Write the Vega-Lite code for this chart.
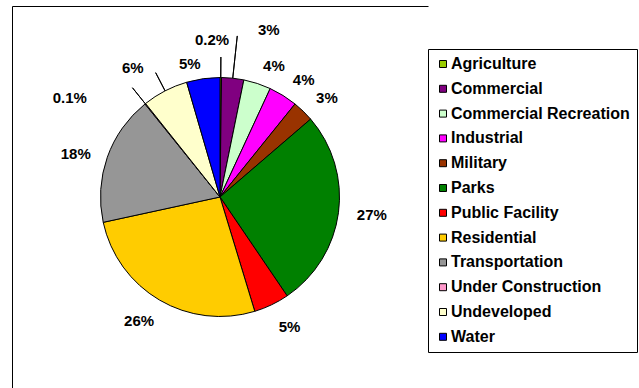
{
  "$schema": "https://vega.github.io/schema/vega-lite/v6.json",
  "width": 416,
  "height": 382,
  "padding": {"left": 12, "top": 6, "right": 0, "bottom": 0},
  "autosize": {"type": "pad"},
  "background": "white",
  "view": {"stroke": "black", "strokeWidth": 1, "strokeDash": [416, 798, 382, 0]},
  "config": {
    "view": {"stroke": "black", "strokeWidth": 1, "strokeDash": [416, 798, 382, 0]},
    "text": {"font": "Liberation Sans", "fontWeight": "bold", "fontSize": 15, "fill": "black"}
  },
  "data": {
    "values": [
      {"name": "Agriculture", "value": 0.2, "label": "0.2%"},
      {"name": "Commercial", "value": 3.0, "label": "3%"},
      {"name": "Commercial Recreation", "value": 3.7, "label": "4%"},
      {"name": "Industrial", "value": 3.9, "label": "4%"},
      {"name": "Military", "value": 2.9, "label": "3%"},
      {"name": "Parks", "value": 26.8, "label": "27%"},
      {"name": "Public Facility", "value": 4.8, "label": "5%"},
      {"name": "Residential", "value": 26.3, "label": "26%"},
      {"name": "Transportation", "value": 17.6, "label": "18%"},
      {"name": "Under Construction", "value": 0.1, "label": "0.1%"},
      {"name": "Undeveloped", "value": 6.2, "label": "6%"},
      {"name": "Water", "value": 4.5, "label": "5%"}
    ]
  },
  "encoding": {
    "theta": {"field": "value", "type": "quantitative", "stack": true},
    "detail": {"field": "name", "type": "nominal"},
    "order": {"field": "name", "type": "ordinal", "sort": "ascending"}
  },
  "layer": [
    {
      "mark": {"type": "arc", "outerRadius": 119.5, "stroke": "black", "strokeWidth": 1},
      "encoding": {
        "color": {
          "field": "name",
          "type": "nominal",
          "scale": {
            "domain": ["Agriculture", "Commercial", "Commercial Recreation", "Industrial", "Military", "Parks", "Public Facility", "Residential", "Transportation", "Under Construction", "Undeveloped", "Water"],
            "range": ["#99CC00", "#800080", "#CCFFCC", "#FF00FF", "#993300", "#008000", "#FF0000", "#FFCC00", "#969696", "#FF99CC", "#FFFFCC", "#0000FF"]
          },
          "legend": {
            "orient": "none",
            "legendX": 416,
            "legendY": 43,
            "title": null,
            "strokeColor": "black",
            "fillColor": "white",
            "padding": 7,
            "symbolType": "square",
            "symbolSize": 49,
            "symbolStrokeColor": "black",
            "symbolStrokeWidth": 1,
            "labelFont": "Liberation Sans",
            "labelFontWeight": "bold",
            "labelFontSize": 16,
            "labelColor": "black",
            "labelOffset": 0,
            "rowPadding": 8.8,
            "labelLimit": 400
          }
        }
      }
    },
    {
      "mark": {"type": "arc", "innerRadius": 119.5, "outerRadius": 140, "padAngle": 3, "fill": "transparent", "stroke": "black", "strokeWidth": 1},
      "encoding": {
        "strokeOpacity": {"condition": {"test": "indexof(['Agriculture','Under Construction','Undeveloped'], datum.name) >= 0", "value": 1}, "value": 0}
      }
    },
    {
      "mark": {"type": "arc", "innerRadius": 119.5, "outerRadius": 162, "padAngle": 3, "fill": "transparent", "stroke": "black", "strokeWidth": 1},
      "encoding": {
        "strokeOpacity": {"condition": {"test": "datum.name === 'Commercial'", "value": 1}, "value": 0}
      }
    },
    {
      "mark": {"type": "text", "radius": 138, "align": "left", "baseline": "middle"},
      "encoding": {
        "text": {"condition": {"test": "indexof(['Commercial Recreation','Industrial','Military','Parks'], datum.name) >= 0", "field": "label", "type": "nominal"}, "value": ""}
      }
    },
    {
      "mark": {"type": "text", "radius": 137, "align": "right", "baseline": "middle", "dy": 3},
      "encoding": {
        "text": {"condition": {"test": "indexof(['Transportation','Water'], datum.name) >= 0", "field": "label", "type": "nominal"}, "value": ""}
      }
    },
    {
      "mark": {"type": "text", "radius": 136, "align": "left", "baseline": "top"},
      "encoding": {
        "text": {"condition": {"test": "datum.name === 'Public Facility'", "field": "label", "type": "nominal"}, "value": ""}
      }
    },
    {
      "mark": {"type": "text", "radius": 136, "align": "right", "baseline": "top", "dx": 3},
      "encoding": {
        "text": {"condition": {"test": "datum.name === 'Residential'", "field": "label", "type": "nominal"}, "value": ""}
      }
    },
    {
      "mark": {"type": "text", "radius": 157, "align": "center", "baseline": "middle", "dx": -9},
      "encoding": {
        "text": {"condition": {"test": "datum.name === 'Agriculture'", "field": "label", "type": "nominal"}, "value": ""}
      }
    },
    {
      "mark": {"type": "text", "radius": 168, "align": "left", "baseline": "middle", "dx": 20},
      "encoding": {
        "text": {"condition": {"test": "datum.name === 'Commercial'", "field": "label", "type": "nominal"}, "value": ""}
      }
    },
    {
      "mark": {"type": "text", "radius": 136, "align": "right", "baseline": "middle", "dx": -48, "dy": 7},
      "encoding": {
        "text": {"condition": {"test": "datum.name === 'Under Construction'", "field": "label", "type": "nominal"}, "value": ""}
      }
    },
    {
      "mark": {"type": "text", "radius": 140, "align": "right", "baseline": "middle", "dx": -12, "dy": -5},
      "encoding": {
        "text": {"condition": {"test": "datum.name === 'Undeveloped'", "field": "label", "type": "nominal"}, "value": ""}
      }
    }
  ]
}
